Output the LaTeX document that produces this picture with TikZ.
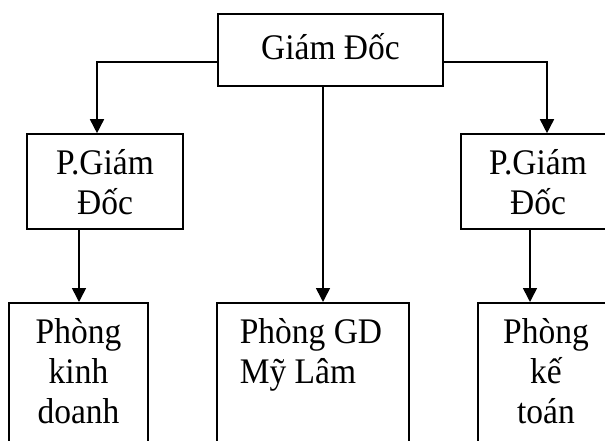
\documentclass[tikz,border=0pt]{standalone}
\usepackage{fontspec}
\setmainfont{Liberation Serif}[FakeStretch=0.93]
\usetikzlibrary{arrows.meta}
\begin{document}
\begin{tikzpicture}[x=1pt,y=-1pt,
  box/.style={draw,line width=1.6pt,rectangle,inner sep=0pt},
  txt/.style={font=\fontsize{36}{40}\selectfont,inner sep=0pt},
  arr/.style={line width=1.6pt,-{Triangle[length=14pt,width=14pt]}},
  ln/.style={line width=1.6pt}]
\clip (0,0) rectangle (605,441);
% top
\node[box,minimum width=225pt,minimum height=72pt,line width=1.9pt] (gd) at (330.5,50) {};
\node[txt] (gdt) at (330.5,47) {Giám Đốc};
% middle
\node[box,minimum width=156pt,minimum height=95pt] (p1) at (105,181.5) {};
\node[txt,align=center] (p1t) at (105,182) {P.Giám\\Đốc};
\node[box,minimum width=154pt,minimum height=95pt] (p2) at (538,181.5) {};
\node[txt,align=center] (p2t) at (538,182) {P.Giám\\Đốc};
% bottom
\node[box,minimum width=139pt,minimum height=200pt,anchor=north] (kd) at (78.5,302) {};
\node[txt,align=center,anchor=north] (kdt) at (78.5,318) {Phòng\\kinh\\doanh};
\node[box,minimum width=192pt,minimum height=200pt,anchor=north] (ml) at (313,302) {};
\node[txt,align=left,anchor=north] (mlt) at (311,318) {Phòng GD\\Mỹ Lâm};
\node[box,minimum width=136pt,minimum height=200pt,anchor=north] (kt) at (546,302) {};
\node[txt,align=center,anchor=north] (ktt) at (546,318) {Phòng\\kế\\toán};
% connectors
\draw[arr] ([yshift=-12pt]gd.west) -| ([xshift=-8pt]p1.north);
\draw[arr] ([yshift=-12pt]gd.east) -| ([xshift=9pt]p2.north);
\draw[arr] ([xshift=-7.5pt]gd.south) -- ([xshift=-7.5pt]gd.south |- ml.north);
\draw[arr] ([xshift=-26pt]p1.south) -- ([xshift=-26pt]p1.south |- kd.north);
\draw[arr] ([xshift=-8pt]p2.south) -- ([xshift=-8pt]p2.south |- kt.north);
\end{tikzpicture}
\end{document}
